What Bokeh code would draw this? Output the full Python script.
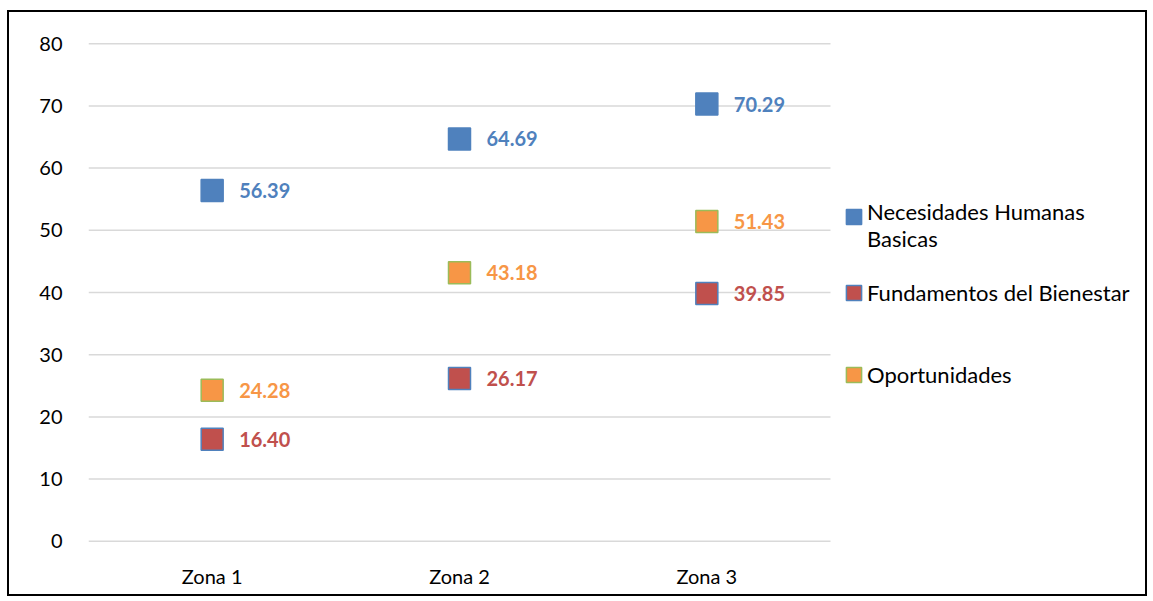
from bokeh.plotting import figure
from bokeh.models import ColumnDataSource, FixedTicker, Legend, LegendItem, Range1d
from bokeh.core.properties import value
from bokeh.embed import file_html
from bokeh.resources import INLINE

zonas = ["Zona 1", "Zona 2", "Zona 3"]
necesidades = [56.39, 64.69, 70.29]
fundamentos = [16.40, 26.17, 39.85]
oportunidades = [24.28, 43.18, 51.43]
series_names = ["Necesidades Humanas\nBasicas", "Fundamentos del Bienestar", "Oportunidades"]
y_ticks = [0, 10, 20, 30, 40, 50, 60, 70, 80]

FONT = "Lato"

# layout (pixels)
W, H = 1140, 586
ML, MT, MB = 79, 25, 51
frame_w = W - ML
plot_w = 742  # width of the category area
ncat = len(zonas)
xpos = [i + 0.5 for i in range(ncat)]

p = figure(x_range=Range1d(0, ncat * frame_w / plot_w), y_range=Range1d(-1, 81),
           width=W, height=H,
           output_backend="svg", toolbar_location=None,
           min_border_left=ML, min_border_right=0, min_border_top=MT, min_border_bottom=MB)
p.styles = {"border": "2px solid black", "margin": "10px 0px 0px 7px"}
p.outline_line_color = None
p.background_fill_color = "white"
p.border_fill_color = "white"

p.xgrid.grid_line_color = None
p.ygrid.grid_line_color = None

# horizontal gridlines limited to the category area
gsrc = ColumnDataSource(dict(x0=[0] * len(y_ticks), x1=[ncat] * len(y_ticks), y=y_ticks))
p.segment("x0", "y", "x1", "y", source=gsrc, line_color="#D9D9D9", line_width=1.5,
          level="underlay")

p.yaxis.ticker = FixedTicker(ticks=y_ticks)
p.xaxis.ticker = FixedTicker(ticks=xpos)
p.xaxis.major_label_overrides = {x: z for x, z in zip(xpos, zonas)}
for ax in (p.xaxis[0], p.yaxis[0]):
    ax.axis_line_color = None
    ax.major_tick_line_color = None
    ax.minor_tick_line_color = None
    ax.major_tick_out = 0
    ax.major_tick_in = 0
    ax.minor_tick_out = 0
    ax.major_label_text_font = FONT
    ax.major_label_text_font_size = "20px"
    ax.major_label_text_color = "#000000"
p.yaxis.major_label_standoff = 26
p.xaxis.major_label_standoff = 16

styles = [
    ("#4F81BD", "#4F81BD", "#4F81BD"),
    ("#C0504D", "#4F81BD", "#C0504D"),
    ("#F79646", "#9BBB59", "#F79646"),
]
data = [necesidades, fundamentos, oportunidades]

legend_renderers = []
for vals, (fill, line, txt) in zip(data, styles):
    src = ColumnDataSource(dict(x=xpos, y=vals, lab=["%.2f" % v for v in vals]))
    p.scatter("x", "y", source=src, marker="square", size=22,
              fill_color=fill, line_color=line, line_width=1.5)
    p.text("x", "y", text="lab", source=src, x_offset=27,
           text_align="left", text_baseline="middle",
           text_font=value(FONT), text_font_style="bold",
           text_font_size="20px", text_color=txt)
    dummy = ColumnDataSource(dict(x=[-10], y=[-100]))
    r = p.rect("x", "y", width=0.01, height=0.01, source=dummy,
               fill_color=fill, line_color=line, line_width=1.5)
    legend_renderers.append(r)

blank = p.rect("x", "y", width=0.01, height=0.01,
               source=ColumnDataSource(dict(x=[-10], y=[-100])),
               fill_alpha=0, line_alpha=0)

# legend entries placed individually (screen px from frame bottom-left)
entries = [
    (" ", legend_renderers[0], (756, 320)),
    (series_names[0], blank, (756, 295)),
    (series_names[1], legend_renderers[1], (756, 241)),
    (series_names[2], legend_renderers[2], (756, 159)),
]
for name, r, loc in entries:
    lg = Legend(items=[LegendItem(label=name, renderers=[r])], location=loc,
                border_line_color=None, background_fill_alpha=0,
                padding=0, margin=0, spacing=0,
                glyph_width=19, glyph_height=19, label_standoff=4,
                label_text_font=FONT, label_text_font_size="22px",
                label_text_color="#000000", label_height=22,
                label_text_line_height=1.05)
    p.add_layout(lg, "center")

open("out.html", "w").write(file_html(p, INLINE))
